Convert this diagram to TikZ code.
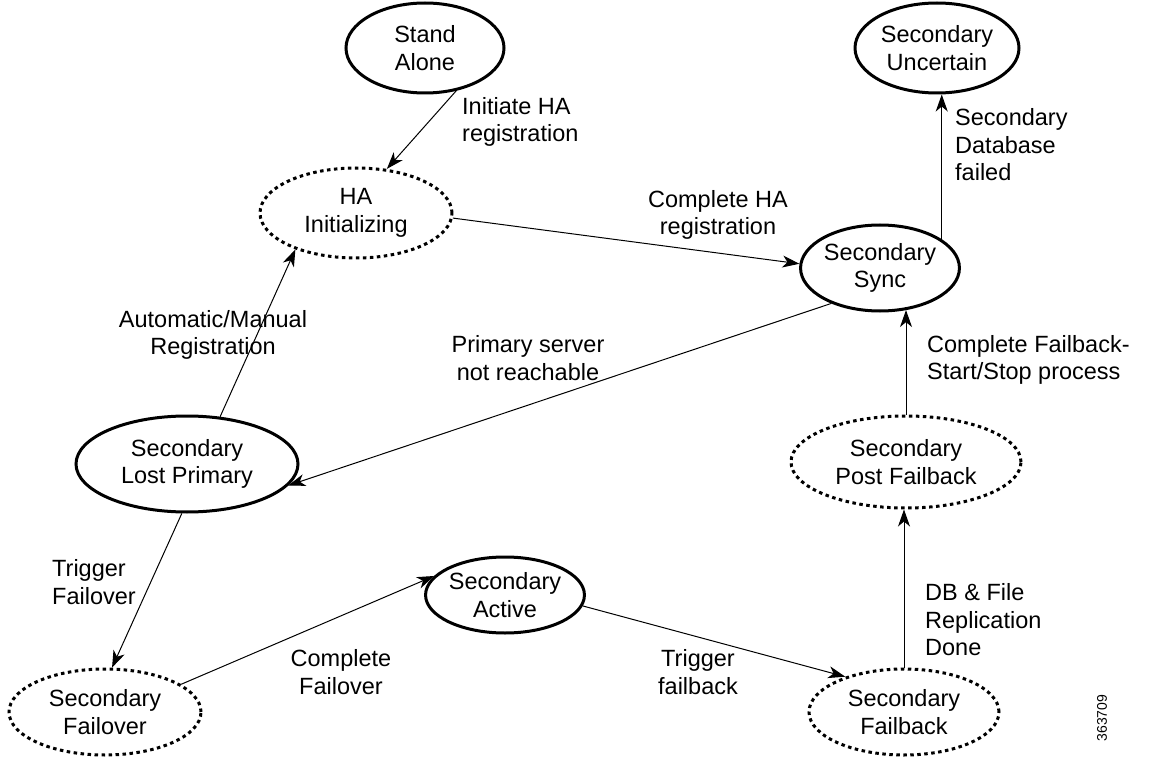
\documentclass[tikz,border=0pt]{standalone}
\usepackage{fontspec}
\setmainfont{Liberation Sans}
\usetikzlibrary{shapes.geometric,arrows.meta}
\begin{document}
\begin{tikzpicture}[x=1pt,y=-1pt,
  every node/.style={font=\fontsize{23.5}{27.5}\selectfont, inner sep=0pt},
  st/.style={ellipse, draw, line width=3pt, align=center},
  dst/.style={st, dash pattern=on 3.5pt off 3.5pt},
  lbl/.style={align=left},
  clbl/.style={align=center},
  arr/.style={-{Stealth[length=17pt,width=12pt,inset=5pt]}, line width=1pt}]
\useasboundingbox (0,0) rectangle (1149,762);
\node[st, minimum width=158, minimum height=90] (sa) at (425,48) {Stand\\Alone};
\node[st, minimum width=164, minimum height=90] (su) at (937,48) {Secondary\\Uncertain};
\node[dst, minimum width=192, minimum height=90] (ha) at (356,213) {HA\\Initializing};
\node[st, minimum width=144, minimum height=86] (ss) at (880,268) {Secondary\\Sync};
\node[st, minimum width=222, minimum height=96] (lp) at (187,464) {Secondary\\Lost Primary};
\node[dst, minimum width=230, minimum height=92] (pf) at (906,462) {Secondary\\Post Failback};
\node[st, minimum width=136, minimum height=76] (ac) at (505,595) {Secondary\\Active};
\node[dst, minimum width=192, minimum height=86] (fo) at (105,712) {Secondary\\Failover};
\node[dst, minimum width=190, minimum height=86] (fb) at (904,712) {Secondary\\Failback};

\draw[arr] (sa.-54) -- (ha.55);
\draw[arr] (ha.-3) -- (ss.177);
\draw[arr] (ss.25) -- (ss.25 |- su.south);
\draw[arr] (lp.55) -- (ha.211);
\draw[arr] (ss.216) -- (lp.-12);
\draw[arr] (pf.north) -- (pf.north |- ss.-58);
\draw[arr] (lp.-96) -- (fo.81);
\draw[arr] (fo.20) -- (ac.165);
\draw[arr] (ac.-8) -- (fb.149);
\draw[arr] (fb.north) -- (fb.north |- pf.south);

\node[lbl, anchor=west] (l1) at (462,122) {Initiate HA\\registration};
\node[clbl] (l2) at (718,215) {Complete HA\\registration};
\node[lbl, anchor=west] (l3) at (955,145) {Secondary\\Database\\failed};
\node[clbl] (l4) at (213,335) {Automatic/Manual\\Registration};
\node[clbl] (l5) at (528,358) {Primary server\\not reachable};
\node[lbl, anchor=west] (l6) at (927,360) {Complete Failback-\\Start/Stop process};
\node[lbl, anchor=west] (l7) at (52,582) {Trigger\\Failover};
\node[clbl] (l8) at (341,672) {Complete\\Failover};
\node[clbl] (l9) at (698,672) {Trigger\\failback};
\node[lbl, anchor=west] (l10) at (925,620) {DB \& File\\Replication\\Done};
\node[rotate=90, font=\fontsize{14}{16}\selectfont] (id) at (1102,718) {363709};
\end{tikzpicture}
\end{document}
